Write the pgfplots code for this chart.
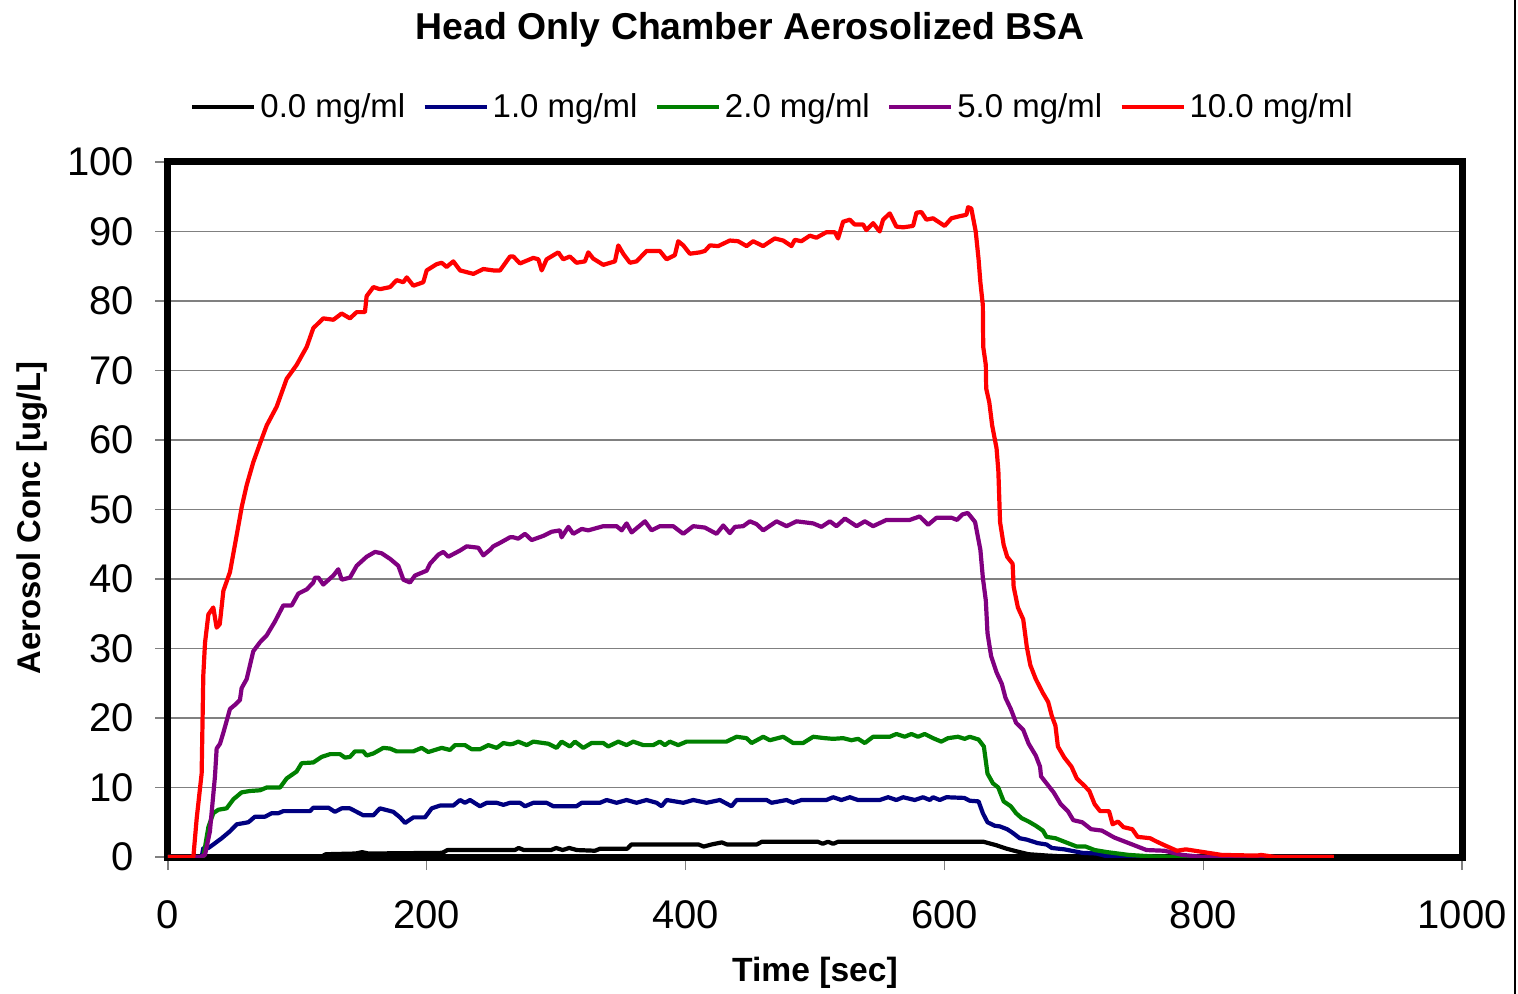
\documentclass[border=0pt]{standalone}
\usepackage{fontspec}
\setmainfont{Liberation Sans}
\usepackage{pgfplots}
\pgfplotsset{compat=1.18}
\definecolor{cnavy}{RGB}{0,0,128}
\definecolor{cgreen}{RGB}{0,128,0}
\definecolor{cpurple}{RGB}{128,0,128}
\definecolor{cred}{RGB}{255,0,0}
\definecolor{cgrid}{RGB}{128,128,128}
\begin{document}
\begin{tikzpicture}
\path[use as bounding box] (-84pt,-68.5pt) rectangle (675pt,428.5pt);
\begin{axis}[
  at={(0,0)}, anchor=south west,
  scale only axis, width=647pt, height=347.5pt,
  xmin=0, xmax=1000, ymin=0, ymax=100,
  xtick={0,200,...,1000}, ytick={0,10,...,100},
  axis line style={line width=3.5pt, black},
  ymajorgrids, grid style={cgrid, line width=0.75pt},
  tick align=outside, tick pos=left, major tick length=6.5pt,
  tick style={cgrid, line width=0.6pt},
  /pgf/number format/assume math mode=true,
  /pgf/number format/set thousands separator={},
  ticklabel style={font=\fontsize{20}{22}\selectfont},
  xticklabel style={yshift=-12pt},
  yticklabel style={xshift=-7pt},
  title={Head Only Chamber Aerosolized BSA},
  title style={at={(0.45,1.193)}, anchor=center, yshift=-7pt, font=\bfseries\fontsize{18.7}{22}\selectfont},
  xlabel={Time [sec]},
  xlabel style={at={(axis description cs:0.5,-0.167)}, anchor=center, font=\bfseries\fontsize{16.8}{19}\selectfont},
  ylabel={Aerosol Conc [ug/L]},
  ylabel style={at={(axis description cs:-0.105,0.488)}, anchor=center, font=\bfseries\fontsize{16.4}{18}\selectfont},
  legend columns=5,
  legend style={at={(0.468,1.079)}, anchor=center, draw=none, fill=none,
    font=\fontsize{16.5}{18}\selectfont,
    /tikz/every even column/.append style={column sep=6.7pt}},
  legend image code/.code={\draw[#1, line width=2pt] (0pt,0pt) -- (31pt,0pt);},
  every axis plot/.append style={line width=2.1pt, line join=round},
]
% 0.0 mg/ml
\addplot[black] coordinates {
(0,0) (118,0) (122,0.4) (145,0.5) (150,0.7) (155,0.5) (212,0.6) (216,1.0) (268,1.0) (271,1.3) (275,1.0) (296,1.0) (300,1.3) (305,1.0) (310,1.3) (316,1.0) (330,0.9) (334,1.2) (355,1.2) (358,1.8) (410,1.8) (414,1.5) (420,1.8) (428,2.1) (432,1.8) (455,1.8) (459,2.2) (502,2.2) (506,1.9) (510,2.2) (514,1.9) (518,2.2) (630,2.2) (640,1.7) (648,1.2) (656,0.8) (665,0.4) (680,0.2) (700,0) (900,0)
};
\addlegendentry{0.0 mg/ml}
% 1.0 mg/ml
\addplot[cnavy] coordinates {
(0,0) (26,0) (27.3,1.3) (31.2,1.3) (35,1.8) (41.5,2.7) (47.9,3.7) (53.1,4.7) (62.1,5.0) (67.2,5.8) (75,5.8) (80.1,6.3) (85.3,6.3) (89.1,6.6) (109.7,6.6) (112.3,7.1) (123.9,7.1) (129,6.5) (134.2,7.0) (140.6,7.0) (150.9,6.0) (158.7,6.0) (163.8,7.0) (174.1,6.5) (179.3,5.7) (183.2,4.9) (189.6,5.7) (198.6,5.7) (203.8,7.0) (210.2,7.4) (220.5,7.4) (225.7,8.2) (229.5,7.8) (233.4,8.2) (241.1,7.3) (246.3,7.8) (254,7.8) (259.2,7.5) (264.3,7.8) (272,7.8) (275.9,7.3) (282.3,7.8) (292.6,7.8) (297.8,7.3) (315.7,7.3) (319.7,7.8) (333.8,7.8) (339,8.2) (346.7,7.8) (354.4,8.2) (362.1,7.8) (369.8,8.2) (377.6,7.8) (381.4,7.3) (385.3,8.2) (398.2,7.8) (405.9,8.2) (416.2,7.8) (426.5,8.2) (435.5,7.3) (439.4,8.2) (462.6,8.2) (466.4,7.8) (478,8.2) (483.1,7.8) (489.5,8.2) (508.8,8.2) (514,8.6) (520.4,8.2) (526.9,8.6) (533.3,8.2) (550,8.2) (556.5,8.6) (562.9,8.2) (568.1,8.6) (577.1,8.2) (583.5,8.6) (588.7,8.2) (591.2,8.6) (596.4,8.2) (601.5,8.6) (615.4,8.5) (619.5,8.1) (626.4,8.0) (629.7,6.3) (633.3,5.0) (638.8,4.5) (642.9,4.4) (648.5,4.0) (652.6,3.5) (658.2,2.7) (663.7,2.5) (672,2.0) (678.9,1.8) (683,1.3) (692.7,1.1) (698.2,0.9) (706.5,0.6) (717.5,0.5) (725.8,0.1) (745.1,0) (900,0)
};
\addlegendentry{1.0 mg/ml}
% 2.0 mg/ml
\addplot[cgreen] coordinates {
(0,0) (27.3,0) (31.2,4.3) (35,6.3) (38.9,6.8) (45.3,7.0) (50.5,8.3) (56.9,9.3) (63.4,9.5) (71.1,9.6) (76.3,10.0) (86.6,10.0) (91.7,11.3) (99.4,12.3) (103.3,13.5) (112.3,13.6) (118.7,14.4) (125.2,14.8) (132.9,14.8) (136.8,14.3) (140.6,14.4) (144.5,15.2) (150.9,15.2) (153.5,14.6) (158.7,14.9) (166.4,15.7) (171.6,15.6) (176.7,15.2) (189.6,15.2) (196,15.7) (201.2,15.1) (206.3,15.4) (211.5,15.7) (217.9,15.4) (221.8,16.1) (229.5,16.1) (234.7,15.5) (241.1,15.5) (247.6,16.1) (254,15.7) (259.2,16.4) (264.3,16.2) (266.9,16.3) (270.7,16.6) (277.2,16.1) (282.3,16.6) (293.9,16.3) (300.3,15.7) (304.2,16.6) (310.6,15.9) (314.5,16.6) (320.9,15.7) (327.3,16.4) (336.4,16.4) (340.2,15.9) (348,16.6) (354.4,16.1) (359.5,16.6) (367.3,16.1) (375,16.1) (380.1,16.6) (384,16.1) (387.8,16.6) (394.3,16.1) (400.7,16.6) (431.6,16.6) (439.4,17.3) (447.1,17.1) (451,16.4) (460,17.3) (465.1,16.8) (475.4,17.3) (483.1,16.4) (490.8,16.4) (498.6,17.3) (507.6,17.1) (514,17.0) (521.7,17.1) (528.1,16.8) (533.3,17.0) (538.5,16.4) (544.9,17.3) (557.8,17.3) (562.9,17.7) (569.3,17.3) (574.5,17.7) (579.6,17.3) (584.8,17.7) (591.2,17.1) (597.6,16.6) (602.8,17.1) (610.5,17.3) (615.7,17.0) (619.6,17.3) (626.4,16.9) (630.5,15.9) (633.3,12.0) (637.5,10.6) (641.6,10.0) (645.8,8.0) (651.3,7.3) (655.4,6.3) (659.6,5.6) (665.1,5.1) (670.6,4.5) (676.1,3.8) (678.9,2.9) (685.8,2.7) (695.4,2.0) (702.3,1.5) (709.2,1.5) (716.1,1.0) (725.8,0.7) (742.4,0.3) (759,0.1) (786.6,0) (900,0)
};
\addlegendentry{2.0 mg/ml}
% 5.0 mg/ml
\addplot[cpurple] coordinates {
(0,0) (24.7,0) (28.6,0.3) (32.4,3.7) (36.3,11.6) (37.6,15.6) (40.2,16.3) (42.8,17.9) (47.9,21.3) (51.8,21.9) (55.6,22.6) (56.9,24.3) (60.8,25.6) (65.9,29.6) (71.1,30.9) (76.3,31.9) (82.7,33.9) (89.1,36.2) (95.6,36.2) (100.7,37.9) (107.2,38.5) (112.3,39.5) (113.6,40.2) (116.2,40.2) (120,39.2) (127.8,40.5) (131.6,41.4) (134.2,39.9) (140.6,40.2) (145.8,41.9) (153.5,43.2) (160,43.9) (165.1,43.7) (171.6,42.9) (178,41.9) (181.9,39.9) (187,39.5) (190.9,40.5) (199.9,41.2) (202.5,42.2) (208.9,43.5) (212.8,43.9) (216.6,43.2) (225.7,44.1) (230.8,44.7) (239.8,44.5) (243.7,43.4) (248.9,44.2) (251.4,44.7) (256.6,45.2) (264.3,46.0) (266.9,46.0) (270.7,45.8) (275.9,46.5) (281,45.6) (290,46.2) (296.5,46.8) (302.9,47.0) (304.2,46.0) (309.4,47.5) (313.2,46.5) (319.7,47.2) (324.8,47.0) (336.4,47.6) (346.7,47.6) (350.6,47.0) (354.4,48.0) (358.3,46.7) (368.6,48.3) (373.7,47.0) (380.1,47.6) (390.4,47.6) (398.2,46.5) (405.9,47.6) (414.9,47.4) (423.9,46.5) (429.1,47.7) (434.2,46.6) (438.1,47.5) (444.5,47.6) (449.7,48.3) (454.8,47.9) (460,47.0) (470.3,48.3) (478,47.6) (485.7,48.3) (498.6,48.0) (505,47.5) (511.5,48.3) (516.6,47.6) (523.1,48.7) (532.1,47.6) (538.5,48.3) (544.9,47.6) (555.2,48.5) (573.2,48.5) (580.9,49.0) (587.4,47.8) (593.8,48.8) (605.7,48.8) (609.8,48.5) (614,49.3) (618.1,49.5) (623.7,48.2) (627.8,44.2) (629.7,40.2) (632,36.9) (633.3,32.2) (636.1,28.9) (640.2,26.6) (644.4,24.9) (647.2,22.9) (651.3,21.3) (655.4,19.3) (660.9,18.3) (665.1,16.3) (670.6,14.6) (673.9,13.0) (674.7,11.6) (678.9,10.6) (684.4,9.3) (689.9,7.6) (695.4,6.6) (699.6,5.3) (706.5,5.0) (713.4,4.0) (721.7,3.8) (731.3,2.8) (742.4,2.0) (756.2,1.0) (770,0.9) (783.8,0.3) (800.4,0) (900,0)
};
\addlegendentry{5.0 mg/ml}
% 10.0 mg/ml
\addplot[cred] coordinates {
(0,0) (19.6,0) (22.2,5.6) (26,12) (27.3,26.2) (28.6,30.8) (31.2,34.9) (35,35.9) (37.6,33) (40,33.5) (42.8,38.3) (47.9,41) (51.8,45) (55.6,48.9) (56.9,50.3) (60.8,53.5) (65.9,56.8) (71.1,59.5) (76.3,62.1) (84,64.8) (91.7,68.8) (99.4,70.8) (107.2,73.4) (112.3,76.1) (120,77.5) (127.8,77.3) (134.2,78.2) (140.6,77.5) (145.8,78.4) (152.2,78.4) (153.5,80.7) (158.7,82.0) (163.8,81.7) (171.6,82.0) (176.7,83.0) (181.9,82.7) (184.5,83.4) (189.6,82.2) (197.3,82.7) (199.9,84.4) (207.6,85.3) (211.5,85.5) (215.3,84.9) (220.5,85.7) (225.7,84.4) (236,83.9) (243.7,84.6) (251.4,84.4) (256.6,84.4) (264.3,86.4) (266.9,86.4) (272,85.4) (282.3,86.2) (286.2,86.0) (288.8,84.4) (292.6,86.0) (301.6,87.0) (305.4,86.0) (310.6,86.4) (315.7,85.5) (322.2,85.7) (324.8,87.0) (328.6,86.1) (336.4,85.2) (345.4,85.7) (348,88.0) (351.8,86.8) (357,85.5) (362.1,85.7) (369.8,87.2) (380.1,87.2) (385.3,86.0) (391.7,86.6) (394.3,88.6) (398.2,88.0) (403.3,86.8) (411.1,87.0) (414.9,87.2) (418.8,88.0) (425.2,87.9) (434.2,88.7) (440.6,88.6) (447.1,87.9) (452.2,88.6) (459.9,87.9) (468.9,89.0) (475.4,88.7) (481.8,87.9) (484.4,88.8) (489.5,88.6) (496,89.4) (501.1,89.1) (508.8,89.9) (515.3,89.9) (517.8,89.0) (521.7,91.4) (526.9,91.7) (530.7,91.0) (537.2,91.0) (539.7,90.2) (544.9,91.2) (550,90.0) (552.6,91.7) (557.8,92.6) (562.9,90.7) (568.1,90.6) (575.8,90.8) (578.4,92.7) (582.2,92.8) (586.1,91.7) (591.2,91.9) (600.2,90.8) (605.4,91.9) (611.8,92.2) (617,92.4) (618.3,93.5) (620.8,93.3) (624.2,90.0) (626.4,86.0) (627.8,82.7) (629.7,79.4) (630,73.4) (632,70.8) (632.3,67.4) (634.7,65.4) (636.9,62.1) (640.3,58.8) (641.7,55.5) (643,48.2) (645.8,44.9) (648.5,43.2) (652.7,42.2) (653.5,38.9) (656.8,35.9) (660.9,34.2) (663.7,30.2) (666.4,27.6) (670.6,25.6) (676.1,23.6) (680.2,22.3) (683,20.3) (685.8,18.9) (687.7,15.9) (692.7,14.3) (698.2,13.0) (702.3,11.3) (707.9,10.3) (712,9.5) (716.1,7.6) (720.3,6.6) (727.2,6.6) (730,4.7) (734.1,5.1) (738.3,4.3) (745.2,4.0) (749.3,2.9) (759,2.7) (763.1,2.3) (770,1.7) (779.7,0.9) (786.6,1.1) (800.4,0.7) (814.2,0.3) (841.8,0.2) (844.6,0.3) (855.7,0) (901,0)
};
\addlegendentry{10.0 mg/ml}
\end{axis}
\draw[line width=1pt] (673.5pt,-68.5pt) -- (673.5pt,428.5pt);
\end{tikzpicture}
\end{document}
